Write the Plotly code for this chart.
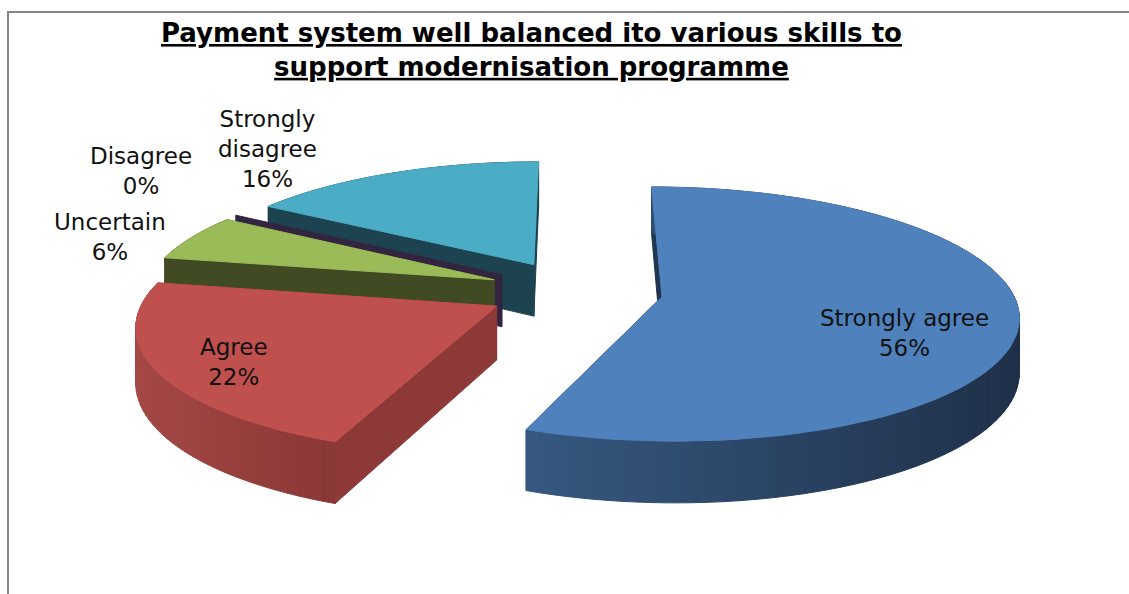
import numpy as np
import plotly.graph_objects as go

# Survey responses
categories = ["Strongly agree", "Agree", "Uncertain", "Disagree", "Strongly disagree"]
percent = [56, 22, 6, 0, 16]
label_names = ["Strongly agree", "Agree", "Uncertain", "Disagree", "Strongly<br>disagree"]

title_text = ("Payment system well balanced ito various skills to<br>"
              "support modernisation programme")

# Slice styling: top face, side wall (lit left edge -> shaded right edge), radial faces
top_colors = ["#4F81BD", "#C0504D", "#9BBB59", "#8064A2", "#4BACC6"]
wall_left = ["#36587F", "#A54846", "#404A23", "#33253F", "#1E4350"]
wall_right = ["#1F3049", "#8A3836", "#404A23", "#33253F", "#1E4350"]
cut_colors = ["#1F3550", "#8D3937", "#404A23", "#33253F", "#1E4350"]

# Label anchor points (pixel space)
label_pos = [(904, 333), (234, 362), (110, 237), (141, 171), (267, 149)]

# Scene geometry for the tilted, exploded pie (pixel space)
W, H = 1129, 594
CX, CY = 575.0, 291.0
RADIUS = 350.0
EXPLODE = 88.0
TILT = 0.352
CAMERA = 2600.0
DEPTH = 53.0


def project(X, Z, drop=0.0):
    X = np.asarray(X, float)
    Z = np.asarray(Z, float)
    w = CAMERA / (CAMERA + Z)
    return CX + X * w, CY - Z * TILT * w + drop * w


def hex_rgb(h):
    h = h.lstrip("#")
    return [int(h[k:k + 2], 16) for k in (0, 2, 4)]


def mix(c1, c2, f):
    a, b = hex_rgb(c1), hex_rgb(c2)
    r = [round(a[k] + (b[k] - a[k]) * f) for k in range(3)]
    return "rgb({},{},{})".format(*r)


fig = go.Figure()


def add_poly(xs, ys, color):
    xs = list(xs) + [xs[0]]
    ys = list(ys) + [ys[0]]
    fig.add_trace(go.Scatter(
        x=xs, y=ys, mode="lines", fill="toself", fillcolor=color,
        line=dict(color=color, width=1), hoverinfo="skip", showlegend=False))


total = float(sum(percent))
edges = np.concatenate([[0.0], np.cumsum(percent)]) / total * 2 * np.pi

slices = []
for i in range(len(categories)):
    a1, a2 = edges[i], edges[i + 1]
    mid = (a1 + a2) / 2
    ox, oz = EXPLODE * np.sin(mid), EXPLODE * np.cos(mid)
    slices.append((oz, i, a1, a2, ox))

# paint the slices that sit farther back first
slices.sort(key=lambda s: -s[0])

for oz, i, a1, a2, ox in slices:
    apex_t = project([ox], [oz])
    apex_b = project([ox], [oz], DEPTH)

    # flat radial faces
    cuts = [a1] if a1 == a2 else [a1, a2]
    for a in cuts:
        X = [ox + RADIUS * np.sin(a)]
        Z = [oz + RADIUS * np.cos(a)]
        rt = project(X, Z)
        rb = project(X, Z, DEPTH)
        add_poly([apex_t[0][0], rt[0][0], rb[0][0], apex_b[0][0]],
                 [apex_t[1][0], rt[1][0], rb[1][0], apex_b[1][0]],
                 cut_colors[i])

    if a2 <= a1:
        continue

    # curved outer wall, drawn in short strips for shading
    n = max(2, int(np.degrees(a2 - a1) / 2) + 2)
    ang = np.linspace(a1, a2, n)
    X = ox + RADIUS * np.sin(ang)
    Z = oz + RADIUS * np.cos(ang)
    tx, ty = project(X, Z)
    bx, by = project(X, Z, DEPTH)
    xmid = (tx[:-1] + tx[1:]) / 2
    front = np.cos((ang[:-1] + ang[1:]) / 2) < 0.2
    xs_front = xmid[front] if front.any() else xmid
    x_lo, x_hi = xs_front.min(), xs_front.max()
    strips = []
    for k in range(n - 1):
        zmid = (Z[k] + Z[k + 1]) / 2
        f = 0.0 if x_hi == x_lo else float(np.clip((xmid[k] - x_lo) / (x_hi - x_lo), 0, 1))
        strips.append((zmid, k, f))
    strips.sort(key=lambda s: -s[0])
    for zmid, k, f in strips:
        add_poly([tx[k], tx[k + 1], bx[k + 1], bx[k]],
                 [ty[k], ty[k + 1], by[k + 1], by[k]],
                 mix(wall_left[i], wall_right[i], f))

    # top face
    add_poly([apex_t[0][0]] + list(tx), [apex_t[1][0]] + list(ty), top_colors[i])

# Data labels
for i in range(len(categories)):
    x, y = label_pos[i]
    fig.add_annotation(
        x=x, y=y, xref="x", yref="y", showarrow=False,
        text=f"{label_names[i]}<br>{percent[i]}%",
        font=dict(family="DejaVu Sans", size=23, color="#111111"),
        xanchor="center", yanchor="middle", align="center")

# Title
fig.add_annotation(
    x=531, y=50, xref="x", yref="y", showarrow=False,
    text="<b><u>" + title_text.replace("<br>", "</u></b><br><b><u>") + "</u></b>",
    font=dict(family="DejaVu Sans", size=26, color="#000000"),
    xanchor="center", yanchor="middle", align="center")

# Chart frame
fig.add_shape(type="rect", xref="paper", yref="paper",
              x0=8 / W, x1=1.02, y0=-0.02, y1=1 - 12 / H,
              line=dict(color="#868686", width=2), fillcolor="rgba(0,0,0,0)")

fig.update_layout(
    width=W, height=H,
    margin=dict(l=0, r=0, t=0, b=0),
    paper_bgcolor="white", plot_bgcolor="white",
    showlegend=False,
    xaxis=dict(range=[0, W], visible=False, fixedrange=True),
    yaxis=dict(range=[H, 0], visible=False, fixedrange=True),
)

fig.write_html("out.html")
